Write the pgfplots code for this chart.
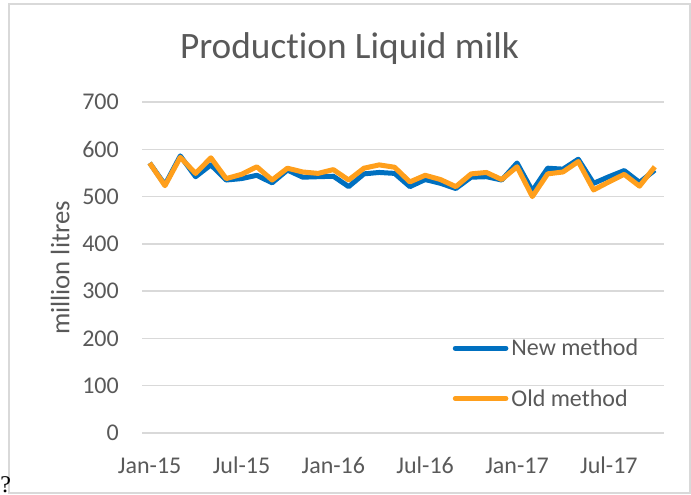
\documentclass[border=0pt]{standalone}
\usepackage{fontspec}
\setmainfont{Carlito}[Ligatures={NoCommon}]
\newfontfamily\qfont{Liberation Serif}
\usepackage{pgfplots}
\pgfplotsset{compat=1.18}
\definecolor{newblue}{HTML}{0070C0}
\definecolor{oldorange}{HTML}{FF9F1C}
\definecolor{txtgray}{HTML}{595959}
\definecolor{gridgray}{HTML}{D9D9D9}
\begin{document}
\begin{tikzpicture}[x=1pt,y=1pt]
\useasboundingbox (0,0) rectangle (691,495);
\draw[gridgray, line width=1.5pt] (9,2) rectangle (690,491);
\node[anchor=base west, inner sep=0pt, font=\qfont\fontsize{24}{28}\selectfont] at (0.3,2.5) {?};
\begin{axis}[
  at={(142pt,62pt)}, anchor=south west,
  scale only axis, width=522pt, height=331pt,
  xmin=-0.5, xmax=33.6, ymin=0, ymax=700,
  axis line style={draw=none},
  ytick={0,100,...,700},
  xtick={0,6,12,18,24,30},
  xticklabels={Jan-15,Jul-15,Jan-16,Jul-16,Jan-17,Jul-17},
  major tick length=0pt,
  ymajorgrids, grid style={gridgray, line width=1.5pt},
  tick label style={font=\fontsize{24}{28}\selectfont, text=txtgray},
  /pgf/number format/assume math mode=true,
  yticklabel style={anchor=east, inner sep=0pt, xshift=-23pt},
  xticklabel style={anchor=base, inner sep=0pt, yshift=-40.3pt},
  ylabel={million litres},
  every axis y label/.style={at={(axis description cs:-0.1393,0.4985)}, rotate=90, anchor=base, font=\fontsize{26.7}{30}\selectfont, text=txtgray},
  title={Production Liquid milk},
  every axis title/.style={at={(axis description cs:0.3975,1.132)}, anchor=base, font=\fontsize{37.3}{42}\selectfont, text=txtgray},
  legend style={at={(axis description cs:0.595,0.284)}, anchor=north west, draw=none, fill=none,
    font=\fontsize{24}{28}\selectfont, text=txtgray, inner sep=0pt, nodes={inner sep=0pt},
    row sep=32pt, column sep=3pt},
  legend cell align=left,
  legend image code/.code={\draw[#1, line cap=round] (0pt,0pt) -- (50.6pt,0pt);},
]
\addplot[newblue, line width=5pt, line join=round, mark=none] coordinates {
(0,571) (1,525) (2,586) (3,542) (4,567) (5,535) (6,538) (7,545) (8,529) (9,556)
(10,541) (11,542) (12,543) (13,521) (14,548) (15,551) (16,549) (17,521) (18,536) (19,528)
(20,517) (21,541) (22,542) (23,535) (24,571) (25,512) (26,560) (27,558) (28,579) (29,528)
(30,542) (31,555) (32,530) (33,556)};
\addlegendentry{New method}
\addplot[oldorange, line width=5pt, line join=round, mark=none] coordinates {
(0,571) (1,523) (2,583) (3,549) (4,582) (5,538) (6,547) (7,563) (8,535) (9,560)
(10,552) (11,549) (12,557) (13,535) (14,560) (15,567) (16,562) (17,531) (18,545) (19,536)
(20,521) (21,548) (22,551) (23,536) (24,563) (25,500) (26,548) (27,552) (28,574) (29,514)
(30,531) (31,547) (32,522) (33,563)};
\addlegendentry{Old method}
\end{axis}
\end{tikzpicture}
\end{document}
